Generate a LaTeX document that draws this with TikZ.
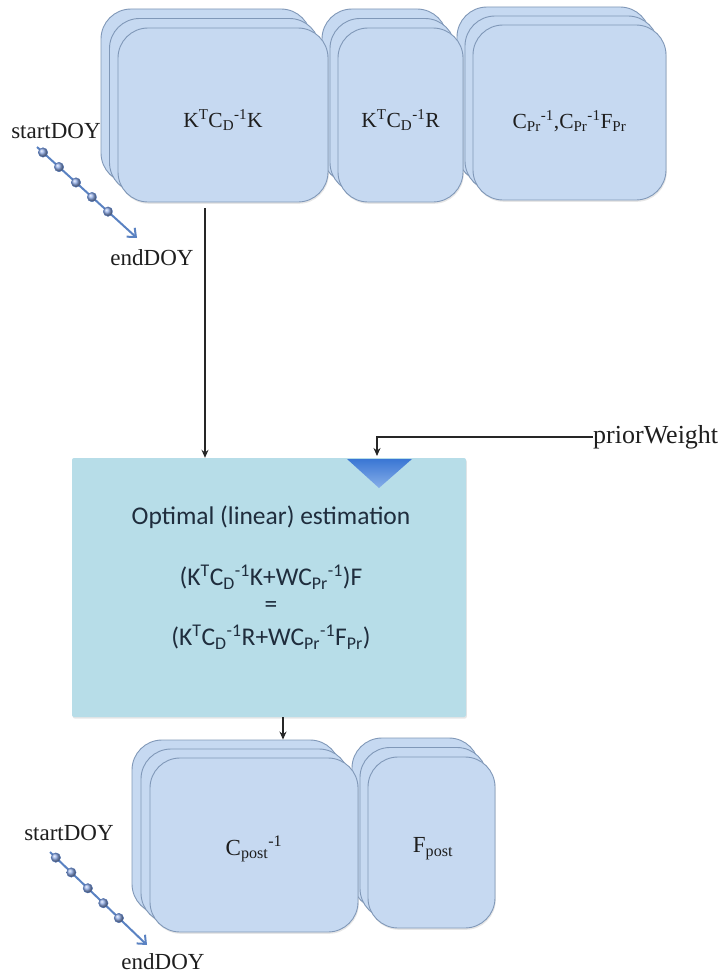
\documentclass[tikz,border=0pt]{standalone}
\usepackage{fontspec}
\setmainfont{Liberation Serif}
\newfontfamily\calfont{Carlito}
\usetikzlibrary{arrows.meta,shadows,calc}
\definecolor{layerfill}{HTML}{C6D9F1}
\definecolor{layerdraw}{HTML}{8098B8}
\definecolor{boxfill}{HTML}{B7DDE8}
\definecolor{tritop}{HTML}{3A76D4}
\definecolor{tribot}{HTML}{86AEE8}
\definecolor{beadfill}{HTML}{7A9BE0}
\definecolor{beaddraw}{HTML}{4F74B8}
\definecolor{beadline}{HTML}{5A82C2}
\definecolor{txt}{HTML}{1E1E1E}
\definecolor{boxtxt}{HTML}{1F2D3D}
\begin{document}
\begin{tikzpicture}[x=1pt,y=-1pt,
  layer/.style={draw=layerdraw, line width=0.9pt, fill=layerfill, rounded corners=30pt,
    inner sep=0pt, drop shadow={opacity=0.2, shadow xshift=0.8pt, shadow yshift=-1.8pt}},
  stacktxt/.style={font=\fontsize{21.5}{25}\selectfont, text=txt, inner sep=0pt},
  lbl/.style={font=\fontsize{23}{27}\selectfont, text=txt, inner sep=0pt},
  boxtext/.style={font=\calfont\fontsize{25.5}{30}\selectfont, text=boxtxt, inner sep=0pt},
  conn/.style={draw=black!85, line width=1.6pt, -{Stealth[length=8pt,width=7pt]}},
  bead/.style={circle, inner sep=0pt, minimum size=9.5pt, shading=ball, ball color=beadfill!85!white, draw=beaddraw, line width=0.4pt},
  beadarrow/.style={draw=beadline, line width=2pt, -{Straight Barb[length=7pt,width=12pt]}},
]
\useasboundingbox (0,0) rectangle (725,974);

% ---- top stacks (drawn right to left) ----
\node[layer, minimum width=193pt, minimum height=175pt] (c3b) at (553.5,94.5) {};
\node[layer, minimum width=193pt, minimum height=175pt] (c3m) at (561.5,103.5) {};
\node[layer, minimum width=193pt, minimum height=175pt] (c3) at (569.5,112.5) {};
\node[stacktxt] (c3t) at (569.5,121) {C\textsubscript{Pr}\textsuperscript{-1},C\textsubscript{Pr}\textsuperscript{-1}F\textsubscript{Pr}};

\node[layer, minimum width=125pt, minimum height=174pt] (k2b) at (384.5,96) {};
\node[layer, minimum width=125pt, minimum height=174pt] (k2m) at (392.5,105.5) {};
\node[layer, minimum width=125pt, minimum height=174pt] (k2) at (400.5,115) {};
\node[stacktxt] (k2t) at (400.5,120) {K\textsuperscript{T}C\textsubscript{D}\textsuperscript{-1}R};

\node[layer, minimum width=210pt, minimum height=174pt] (k1b) at (206,96) {};
\node[layer, minimum width=210pt, minimum height=174pt] (k1m) at (214.5,105.5) {};
\node[layer, minimum width=210pt, minimum height=174pt] (k1) at (223,115) {};
\node[stacktxt] (k1t) at (223,120) {K\textsuperscript{T}C\textsubscript{D}\textsuperscript{-1}K};

% ---- day-of-year arrow (top) ----
\node[lbl] (sd1) at (56,131) {startDOY};
\node[lbl] (ed1) at (152,258) {endDOY};
\coordinate (s1) at (37,147);
\coordinate (e1) at (137,238);
\draw[beadarrow] (s1) -- node[bead,pos=0.06] (b11) {} node[bead,pos=0.22] (b12) {}
  node[bead,pos=0.39] (b13) {} node[bead,pos=0.55] (b14) {} node[bead,pos=0.71] (b15) {} (e1);

% ---- estimation box ----
\node[fill=boxfill, rounded corners=2pt, minimum width=394pt, minimum height=259pt, inner sep=0pt,
  drop shadow={opacity=0.2, shadow xshift=0.8pt, shadow yshift=-1.6pt}] (box) at (269,587.5) {};
\shade[top color=tritop, bottom color=tribot] (347,459) -- (412,459) -- (379,488) -- cycle;
\node[boxtext] (title) at (271,517) {Optimal (linear) estimation};
\node[boxtext] (eq1) at (271,577) {(K\textsuperscript{T}C\textsubscript{D}\textsuperscript{-1}K+WC\textsubscript{Pr}\textsuperscript{-1})F};
\node[boxtext] (eq2) at (271,607) {=};
\node[boxtext] (eq3) at (271,637) {(K\textsuperscript{T}C\textsubscript{D}\textsuperscript{-1}R+WC\textsubscript{Pr}\textsuperscript{-1}F\textsubscript{Pr})};

% ---- connectors ----
\coordinate (a1) at (205,208);
\draw[conn] (a1) -- (a1 |- box.north);
\node[lbl, anchor=west, font=\fontsize{26}{30}\selectfont] (pw) at (593,437) {priorWeight};
\coordinate (pwend) at (377,456);
\draw[conn] (pw.west) -| (pwend);

% ---- bottom stacks (drawn right to left) ----
\node[layer, minimum width=127pt, minimum height=171pt] (fpb) at (415.5,823.5) {};
\node[layer, minimum width=127pt, minimum height=171pt] (fpm) at (423.5,833) {};
\node[layer, minimum width=127pt, minimum height=171pt] (fp) at (431.5,842.5) {};
\node[lbl] (fpt) at (433,849) {F\textsubscript{post}};

\node[layer, minimum width=208pt, minimum height=174pt] (cpb) at (236,827) {};
\node[layer, minimum width=208pt, minimum height=174pt] (cpm) at (245,836) {};
\node[layer, minimum width=208pt, minimum height=174pt] (cp) at (254,845) {};
\node[lbl] (cpt) at (254,849) {C\textsubscript{post}\textsuperscript{-1}};

\coordinate (a2) at (283,717);
\draw[conn] (a2) -- (a2 |- cpb.north);

% ---- day-of-year arrow (bottom) ----
\node[lbl] (sd2) at (69,833) {startDOY};
\node[lbl] (ed2) at (163,962) {endDOY};
\coordinate (s2) at (50,852);
\coordinate (e2) at (147,945);
\draw[beadarrow] (s2) -- node[bead,pos=0.06] (b21) {} node[bead,pos=0.22] (b22) {}
  node[bead,pos=0.39] (b23) {} node[bead,pos=0.55] (b24) {} node[bead,pos=0.71] (b25) {} (e2);
\end{tikzpicture}
\end{document}
